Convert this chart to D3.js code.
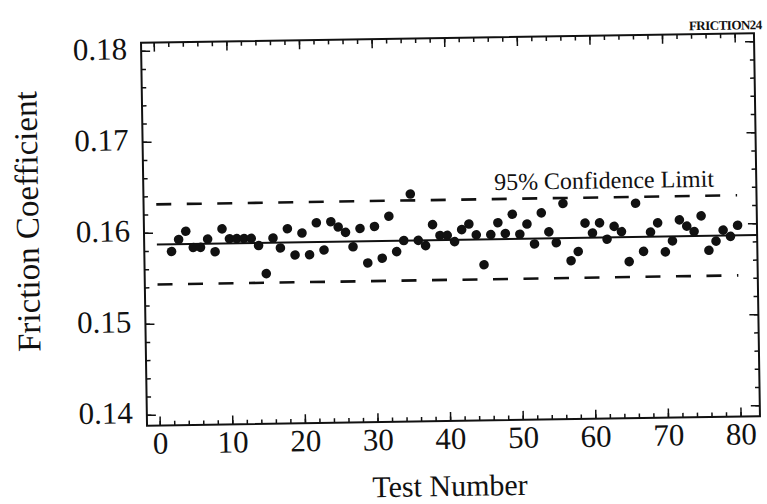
<!DOCTYPE html>
<html>
<head>
<meta charset="utf-8">
<script src="https://cdn.jsdelivr.net/npm/d3@7"></script>
<style>
  body { margin: 0; background: #fff; }
  svg { display: block; }
  text { font-family: "Liberation Serif", "Times New Roman", serif; fill: #111; }
  .axis path { display: none; }
  .axis line { stroke: #111; stroke-width: 1.5; }
</style>
</head>
<body>
<svg class="friction" width="767" height="504"></svg>
<script>
// test numbers 2..80 and measured friction coefficient
const testNumbers = [2,3,4,5,6,7,8,9,10,11,12,13,14,15,16,17,18,19,20,21,
  22,23,24,25,26,27,28,29,30,31,32,33,34,35,36,37,38,39,40,41,
  42,43,44,45,46,47,48,49,50,51,52,53,54,55,56,57,58,59,60,61,
  62,63,64,65,66,67,68,69,70,71,72,73,74,75,76,77,78,79,80];
const friction = [0.1579,0.1592,0.1601,0.1583,0.1583,0.1592,0.1578,0.1603,0.1592,0.1592,
  0.1592,0.1592,0.1584,0.1553,0.1592,0.1581,0.1602,0.1573,0.1597,0.1573,
  0.1608,0.1578,0.1609,0.1603,0.1597,0.1581,0.1601,0.1563,0.1603,0.1568,
  0.1614,0.1575,0.1587,0.1638,0.1587,0.1581,0.1604,0.1592,0.1592,0.1585,
  0.1598,0.1604,0.1592,0.1559,0.1592,0.1605,0.1593,0.1614,0.1592,0.1603,
  0.1581,0.1615,0.1594,0.1582,0.1625,0.1562,0.1572,0.1603,0.1592,0.1603,
  0.1585,0.1599,0.1593,0.1560,0.1624,0.1571,0.1592,0.1602,0.1570,0.1582,
  0.1605,0.1598,0.1592,0.1609,0.1571,0.1581,0.1593,0.1586,0.1598];
const meanValue = 0.1587;
const limits = [0.1631, 0.1543];
const xTicks = [0,10,20,30,40,50,60,70,80];
const yTicks = [0.14,0.15,0.16,0.17,0.18];

function drawFriction(){
  const data = testNumbers.map((t, i) => ({test: t, value: friction[i]}));

  const left = 144, right = 757, top = 38, bottom = 421;

  const x = d3.scaleLinear()
              .domain([-1.75, 82.67])
              .range([left, right]);

  const y = d3.scaleLinear()
              .domain([0.13879, 0.18088])
              .range([bottom, top]);

  // the scanned figure is tilted a little
  const svg = d3.select('svg.friction')
                .append('g')
                .attr('transform', 'rotate(-0.9, 450, 230)');

  const xMinor = d3.range(0, 82, 2);
  const yMinor = d3.range(0, 21).map(i => 0.14 + i * 0.002);

  // bottom / top axes
  svg.append('g').attr('class', 'axis')
     .attr('transform', `translate(0, ${bottom})`)
     .call(d3.axisBottom(x).tickValues(xMinor).tickSize(-4.5).tickFormat(''));
  const xAxis = svg.append('g').attr('class', 'axis')
     .attr('transform', `translate(0, ${bottom})`)
     .call(d3.axisBottom(x).tickValues(xTicks).tickSize(-9).tickPadding(6).tickFormat(d3.format('d')));
  xAxis.selectAll('text').style('font-size', '31px');

  svg.append('g').attr('class', 'axis')
     .attr('transform', `translate(0, ${top})`)
     .call(d3.axisTop(x).tickValues(xMinor).tickSize(-4.5).tickFormat(''));
  svg.append('g').attr('class', 'axis')
     .attr('transform', `translate(0, ${top})`)
     .call(d3.axisTop(x).tickValues(xTicks).tickSize(-9).tickFormat(''));

  // left / right axes
  svg.append('g').attr('class', 'axis')
     .attr('transform', `translate(${left}, 0)`)
     .call(d3.axisLeft(y).tickValues(yMinor).tickSize(-4.5).tickFormat(''));
  const yAxis = svg.append('g').attr('class', 'axis')
     .attr('transform', `translate(${left}, 0)`)
     .call(d3.axisLeft(y).tickValues(yTicks).tickSize(-9).tickPadding(14).tickFormat(d3.format('.2f')));
  yAxis.selectAll('text').style('font-size', '31px').attr('dy', '0.25em');

  svg.append('g').attr('class', 'axis')
     .attr('transform', `translate(${right}, 0)`)
     .call(d3.axisRight(y).tickValues(yMinor).tickSize(-4.5).tickFormat(''));
  svg.append('g').attr('class', 'axis')
     .attr('transform', `translate(${right}, 0)`)
     .call(d3.axisRight(y).tickValues(yTicks).tickSize(-9).tickFormat(''));

  // frame
  svg.append('rect')
     .attr('x', left).attr('y', top)
     .attr('width', right - left).attr('height', bottom - top)
     .attr('fill', 'none')
     .attr('stroke', '#111')
     .attr('stroke-width', 2);

  // mean and 95% limits
  svg.append('line')
     .attr('x1', x(0)).attr('x2', right)
     .attr('y1', y(meanValue)).attr('y2', y(meanValue))
     .attr('stroke', '#111')
     .attr('stroke-width', 2);

  svg.selectAll('line.limit')
     .data(limits)
     .enter()
     .append('line')
       .attr('class', 'limit')
       .attr('x1', x(0)).attr('x2', x(80))
       .attr('y1', d => y(d)).attr('y2', d => y(d))
       .attr('stroke', '#111')
       .attr('stroke-width', 2.6)
       .attr('stroke-dasharray', '15,15.5');

  svg.append('text')
     .text('95% Confidence Limit')
     .attr('x', x(61.7))
     .attr('y', y(limits[0]) - 9)
     .style('font-size', '24px')
     .style('text-anchor', 'middle');

  // points
  svg.selectAll('circle.pt')
     .data(data)
     .enter()
     .append('circle')
       .attr('class', 'pt')
       .attr('cx', d => x(d.test))
       .attr('cy', d => y(d.value))
       .attr('r', 4.8)
       .attr('fill', '#111');

  // axis titles
  svg.append('text')
     .text('Test Number')
     .attr('x', 446)
     .attr('y', 496)
     .style('font-size', '30px')
     .style('text-anchor', 'middle');

  svg.append('text')
     .text('Friction Coefficient')
     .attr('transform', 'translate(27, 215) rotate(-90)')
     .attr('dy', '0.35em')
     .style('font-size', '33px')
     .style('text-anchor', 'middle');

  svg.append('text')
     .text('FRICTION24')
     .attr('x', 765)
     .attr('y', 34)
     .style('font-size', '13px')
     .style('font-weight', 'bold')
     .style('letter-spacing', '-0.5px')
     .style('text-anchor', 'end');
}

drawFriction();
</script>
</body>
</html>
